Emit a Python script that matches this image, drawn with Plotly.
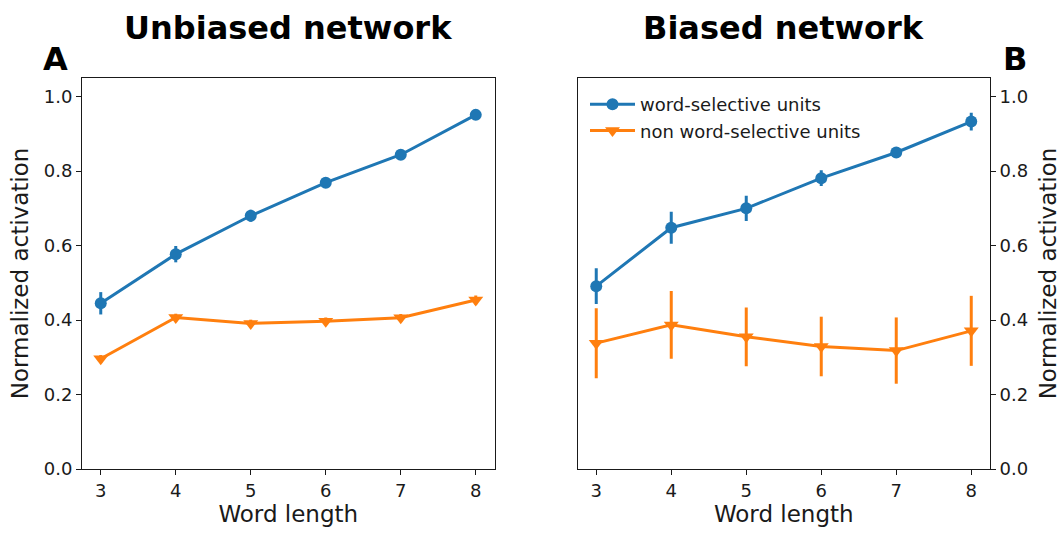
import plotly.graph_objects as go

# Word lengths tested
word_length = [3, 4, 5, 6, 7, 8]

# Unbiased network: mean normalized activation and error
unbiased_word_sel = [0.445, 0.577, 0.680, 0.769, 0.844, 0.951]
unbiased_word_sel_err = [0.030, 0.022, 0.016, 0.010, 0.010, 0.010]
unbiased_non_sel = [0.296, 0.407, 0.391, 0.397, 0.406, 0.454]
unbiased_non_sel_err = [0.010, 0.010, 0.010, 0.010, 0.010, 0.012]

# Biased network: mean normalized activation and error
biased_word_sel = [0.491, 0.648, 0.700, 0.781, 0.850, 0.933]
biased_word_sel_err = [0.048, 0.043, 0.034, 0.021, 0.014, 0.024]
biased_non_sel = [0.338, 0.387, 0.355, 0.329, 0.318, 0.371]
biased_non_sel_err = [0.094, 0.091, 0.079, 0.080, 0.089, 0.094]

panel_titles = ["Unbiased network", "Biased network"]
panel_letters = ["A", "B"]
y_ticks = [0.0, 0.2, 0.4, 0.6, 0.8, 1.0]

BLUE = "#1f77b4"
ORANGE = "#ff7f0e"
FONT = "DejaVu Sans"
INK = "#1a1a1a"
W, H = 1063, 535


def series(x, y, err, color, symbol, size, name, xa, ya, show):
    return go.Scatter(
        x=x, y=y, name=name, mode="lines+markers",
        line=dict(color=color, width=3),
        marker=dict(color=color, symbol=symbol, size=size, line=dict(width=0)),
        error_y=dict(type="data", array=err, visible=True, color=color,
                     thickness=3, width=0),
        xaxis=xa, yaxis=ya, showlegend=show,
    )


fig = go.Figure()
fig.add_trace(series(word_length, unbiased_word_sel, unbiased_word_sel_err,
                     BLUE, "circle", 12, "word-selective units", "x", "y", False))
fig.add_trace(series(word_length, unbiased_non_sel, unbiased_non_sel_err,
                     ORANGE, "triangle-down", 13, "non word-selective units", "x", "y", False))
fig.add_trace(series(word_length, biased_word_sel, biased_word_sel_err,
                     BLUE, "circle", 12, "word-selective units", "x2", "y2", True))
fig.add_trace(series(word_length, biased_non_sel, biased_non_sel_err,
                     ORANGE, "triangle-down", 13, "non word-selective units", "x2", "y2", True))

y_dom = [1 - 469 / H, 1 - 78 / H]
left_dom = [82 / W, 494.5 / W]
right_dom = [577.5 / W, 990 / W]

common_x = dict(
    range=[2.75, 8.25], tickvals=word_length, ticks="outside", ticklen=5,
    tickwidth=1, tickcolor=INK, showline=True, linecolor=INK, linewidth=1,
    mirror=True, showgrid=False, zeroline=False, automargin=False,
    tickfont=dict(family=FONT, size=18, color=INK),
    title=dict(text="Word length", font=dict(family=FONT, size=23, color=INK),
               standoff=4),
)


def y_axis(side, standoff):
    return dict(
        range=[0, 1.05], tickvals=y_ticks, ticktext=[f"{v:.1f}" for v in y_ticks],
        ticks="outside", ticklen=5, tickwidth=1, tickcolor=INK, showline=True,
        linecolor=INK, linewidth=1, mirror=True, showgrid=False, zeroline=False,
        automargin=False, side=side,
        tickfont=dict(family=FONT, size=18, color=INK),
        title=dict(text="Normalized activation",
                   font=dict(family=FONT, size=23, color=INK), standoff=standoff),
    )


fig.update_layout(
    width=W, height=H, margin=dict(l=0, r=0, t=0, b=0),
    paper_bgcolor="white", plot_bgcolor="white",
    xaxis=dict(domain=left_dom, anchor="y", **common_x),
    yaxis=dict(domain=y_dom, anchor="x", **y_axis("left", 8)),
    xaxis2=dict(domain=right_dom, anchor="y2", **common_x),
    yaxis2=dict(domain=y_dom, anchor="x2", **y_axis("right", 12)),
    legend=dict(x=585 / W, y=1 - 86 / H, xanchor="left", yanchor="top",
                bgcolor="rgba(0,0,0,0)", borderwidth=0, itemwidth=45,
                font=dict(family=FONT, size=18, color=INK)),
    showlegend=True,
)

# Panel titles and letters
for cx, title in zip([288, 783], panel_titles):
    fig.add_annotation(x=cx / W, y=1 - 28 / H, xref="paper", yref="paper",
                       text=f"<b>{title}</b>", showarrow=False,
                       xanchor="center", yanchor="middle",
                       font=dict(family=FONT, size=32, color="black"))
for cx, letter in zip([55, 1015], panel_letters):
    fig.add_annotation(x=cx / W, y=1 - 59 / H, xref="paper", yref="paper",
                       text=f"<b>{letter}</b>", showarrow=False,
                       xanchor="center", yanchor="middle",
                       font=dict(family=FONT, size=32, color="black"))

fig.write_html("out.html")
